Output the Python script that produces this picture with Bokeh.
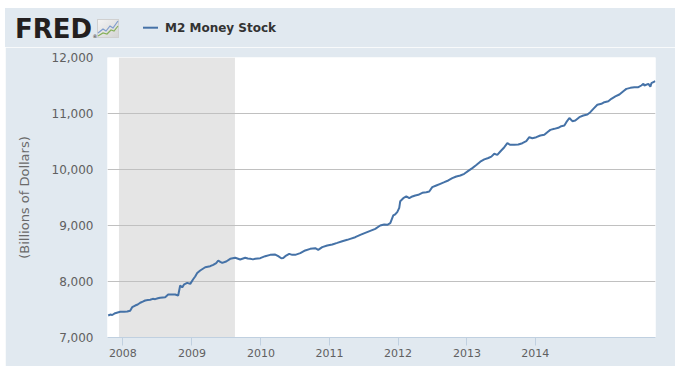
from bokeh.plotting import figure
from bokeh.layouts import column
from bokeh.models import (FixedTicker, NumeralTickFormatter, BoxAnnotation, Range1d, Div)
from bokeh.embed import file_html
from bokeh.resources import INLINE

# ---- data (decimal years, billions of dollars) ----
m2_dates = [
    2007.778, 2007.804, 2007.830, 2007.868, 2007.933, 2007.985, 2008.024, 2008.062, 2008.088, 2008.127,
    2008.160, 2008.192, 2008.225, 2008.256, 2008.290, 2008.321, 2008.355, 2008.386, 2008.420, 2008.450,
    2008.485, 2008.515, 2008.554, 2008.600, 2008.644, 2008.683, 2008.709, 2008.735, 2008.761, 2008.800,
    2008.839, 2008.877, 2008.903, 2008.929, 2008.968, 2009.033, 2009.097, 2009.136, 2009.175, 2009.201,
    2009.227, 2009.253, 2009.304, 2009.356, 2009.421, 2009.485, 2009.550, 2009.583, 2009.615, 2009.650,
    2009.679, 2009.744, 2009.809, 2009.873, 2009.938, 2009.977, 2010.016, 2010.042, 2010.068, 2010.119,
    2010.158, 2010.197, 2010.262, 2010.326, 2010.391, 2010.456, 2010.494, 2010.546, 2010.611, 2010.676,
    2010.740, 2010.805, 2010.870, 2010.908, 2010.973, 2011.038, 2011.102, 2011.167, 2011.232, 2011.296,
    2011.348, 2011.387, 2011.426, 2011.465, 2011.490, 2011.516, 2011.542, 2011.555, 2011.594, 2011.633,
    2011.672, 2011.711, 2011.749, 2011.788, 2011.840, 2011.892, 2011.930, 2011.969, 2012.021, 2012.073,
    2012.125, 2012.176, 2012.228, 2012.280, 2012.332, 2012.383, 2012.435, 2012.487, 2012.539, 2012.590,
    2012.642, 2012.694, 2012.733, 2012.771, 2012.810, 2012.849, 2012.901, 2012.940, 2012.978, 2013.030,
    2013.082, 2013.134, 2013.185, 2013.224, 2013.263, 2013.315, 2013.366, 2013.418, 2013.457, 2013.496,
    2013.548, 2013.599, 2013.638, 2013.677, 2013.703, 2013.742, 2013.781, 2013.819, 2013.871, 2013.923,
    2013.975, 2014.013, 2014.052, 2014.104, 2014.156, 2014.195, 2014.246, 2014.285, 2014.337, 2014.389,
    2014.440, 2014.479, 2014.531, 2014.583, 2014.634, 2014.673, 2014.700, 2014.712, 2014.764, 2014.790,
    2014.803, 2014.854,
]
m2_values = [
    7393, 7410, 7402, 7434, 7459, 7462, 7464, 7478, 7541, 7571,
    7590, 7620, 7640, 7661, 7668, 7673, 7690, 7685, 7700, 7708,
    7715, 7720, 7768, 7770, 7768, 7750, 7929, 7895, 7950, 7975,
    7958, 8040, 8090, 8150, 8196, 8255, 8273, 8298, 8330, 8375,
    8350, 8333, 8357, 8405, 8423, 8393, 8423, 8410, 8405, 8395,
    8405, 8417, 8452, 8476, 8482, 8452, 8415, 8420, 8452, 8494,
    8476, 8476, 8506, 8554, 8583, 8595, 8565, 8613, 8643, 8661,
    8690, 8720, 8744, 8762, 8791, 8833, 8869, 8905, 8941, 9000,
    9018, 9012, 9041, 9179, 9200, 9238, 9316, 9434, 9488, 9518,
    9488, 9518, 9536, 9548, 9583, 9595, 9607, 9684, 9714, 9744,
    9774, 9804, 9845, 9875, 9893, 9923, 9975, 10025, 10080, 10140,
    10180, 10205, 10230, 10280, 10262, 10321, 10398, 10470, 10441, 10441,
    10446, 10470, 10505, 10577, 10559, 10577, 10607, 10619, 10666, 10708,
    10726, 10744, 10773, 10786, 10845, 10920, 10863, 10875, 10934, 10964,
    10982, 11024, 11083, 11155, 11173, 11202, 11220, 11262, 11304, 11339,
    11398, 11440, 11458, 11470, 11470, 11500, 11530, 11500, 11530, 11480,
    11541, 11577,
]
series_name = "M2 Money Stock"
recession_start = 2007.917   # Dec 2007
recession_end = 2009.417     # Jun 2009
y_ticks = [7000, 8000, 9000, 10000, 11000, 12000]
x_tick_pos = [2007.968, 2008.861, 2009.753, 2010.641, 2011.526, 2012.418, 2013.302]
x_tick_labels = ["2008", "2009", "2010", "2011", "2012", "2013", "2014"]

BG = "#e1e9f0"
FONT = "DejaVu Sans"
LINE = "#4572a7"
W = 670

# ---------------- header: FRED logo + legend ----------------
header_svg = f"""
<svg xmlns="http://www.w3.org/2000/svg" width="{W}" height="39" style="display:block">
  <defs>
    <linearGradient id="icg" x1="0" y1="0" x2="1" y2="1">
      <stop offset="0" stop-color="#f4f4f4"/>
      <stop offset="1" stop-color="#d4d4d4"/>
    </linearGradient>
  </defs>
  <rect x="0" y="0" width="{W}" height="39" fill="{BG}"/>
  <text x="10" y="29.7" fill="#231f20"
        style="font-family:'DejaVu Sans';font-weight:bold;font-size:26px">FRED</text>
  <text x="87.5" y="29.6" fill="#231f20"
        style="font-family:'DejaVu Sans';font-size:5px">®</text>
  <rect x="92.5" y="11.5" width="21" height="18" fill="url(#icg)" stroke="#d0d0d0" stroke-width="1"/>
  <polyline points="93,25 98,21 101,23 105,18 108,20 113,13" fill="none"
            stroke="#7f9ccc" stroke-width="1.2"/>
  <polyline points="93,28 98,25 102,26 106,22 109,23 113,18" fill="none"
            stroke="#86b05a" stroke-width="1.2"/>
  <line x1="138" y1="19.7" x2="153" y2="19.7" stroke="{LINE}" stroke-width="2"/>
  <text x="160" y="23.7" fill="#333333"
        style="font-family:'DejaVu Sans';font-weight:bold;font-size:12px">{series_name}</text>
</svg>
"""
head = Div(text=header_svg, width=W, height=39, margin=0,
           styles={"background-color": BG, "overflow": "hidden",
                   "font-family": "'DejaVu Sans'"})

# ---------------- main chart ----------------
p = figure(width=W, height=319, output_backend="svg", toolbar_location=None,
           x_range=Range1d(2007.769, 2014.856), y_range=Range1d(7000, 12000),
           min_border_left=102, min_border_right=20, min_border_top=10,
           min_border_bottom=29, margin=0)
p.background_fill_color = "white"
p.border_fill_color = BG
p.outline_line_color = None

p.add_layout(BoxAnnotation(left=recession_start, right=recession_end,
                           fill_color="#e5e5e5", fill_alpha=1.0,
                           line_color=None, level="image"))

p.xgrid.grid_line_color = None
p.ygrid.grid_line_color = "#c0c0c0"
p.ygrid.grid_line_width = 1

p.yaxis.ticker = FixedTicker(ticks=y_ticks)
p.yaxis.formatter = NumeralTickFormatter(format="0,0")
p.yaxis.axis_line_color = None
p.yaxis.major_tick_line_color = None
p.yaxis.minor_tick_line_color = None
p.yaxis.major_tick_out = 0
p.yaxis.major_tick_in = 0
p.yaxis.minor_tick_out = 0
p.yaxis.major_label_standoff = 14
p.yaxis.major_label_text_font = FONT
p.yaxis.major_label_text_font_size = "12px"
p.yaxis.major_label_text_color = "#606060"
p.yaxis.axis_label = "(Billions of Dollars)"
p.yaxis.axis_label_standoff = 17
p.yaxis.axis_label_text_font = FONT
p.yaxis.axis_label_text_font_style = "normal"
p.yaxis.axis_label_text_font_size = "13px"
p.yaxis.axis_label_text_color = "#6a6a6a"

p.xaxis.ticker = FixedTicker(ticks=x_tick_pos)
p.xaxis.major_label_overrides = {pos: lab for pos, lab in zip(x_tick_pos, x_tick_labels)}
p.xaxis.axis_line_color = "#c0d0e0"
p.xaxis.major_tick_line_color = "#c0d0e0"
p.xaxis.minor_tick_line_color = None
p.xaxis.major_tick_out = 8
p.xaxis.major_tick_in = 0
p.xaxis.minor_tick_out = 0
p.xaxis.major_label_standoff = 3
p.xaxis.major_label_text_font = FONT
p.xaxis.major_label_text_font_size = "11px"
p.xaxis.major_label_text_color = "#606060"

p.line(x=m2_dates, y=m2_values, line_color=LINE, line_width=2, legend_label=series_name)
p.legend.visible = False

layout = column(head, p, spacing=0, margin=(8, 0, 0, 5))
open("out.html", "w").write(file_html(layout, INLINE))
